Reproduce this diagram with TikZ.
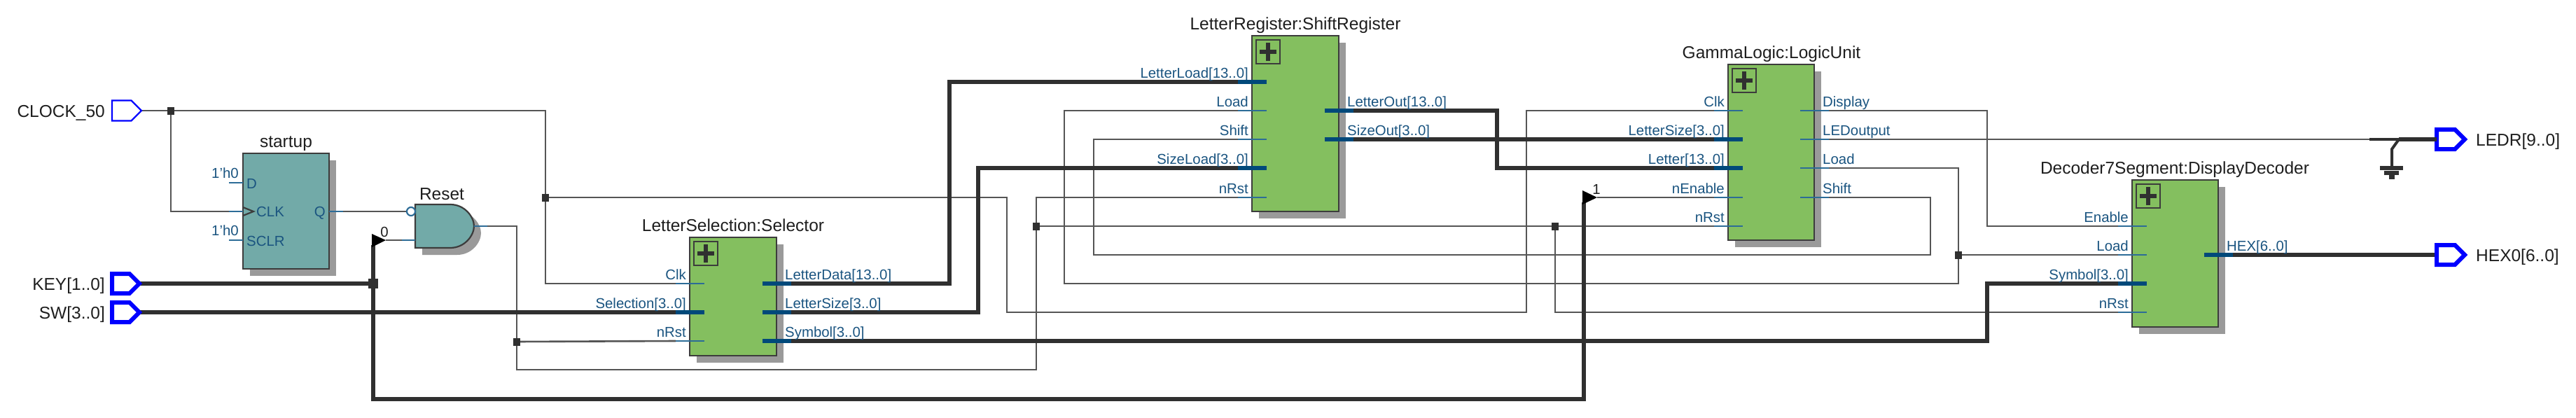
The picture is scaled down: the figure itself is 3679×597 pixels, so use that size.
\documentclass[tikz,border=0pt]{standalone}
\usepackage{fontspec}
\setmainfont{Liberation Sans}
\usetikzlibrary{backgrounds,shadows}
\definecolor{wirecol}{HTML}{555555}
\definecolor{buscol}{HTML}{303030}
\definecolor{stubbus}{HTML}{00497A}
\definecolor{stubsig}{HTML}{2C6C97}
\definecolor{pinblue}{HTML}{1A5480}
\definecolor{blockgreen}{HTML}{84BF5F}
\definecolor{logicteal}{HTML}{72AAA8}
\definecolor{shadowgray}{HTML}{9A9A9A}
\definecolor{edgecol}{HTML}{3C3C3C}
\definecolor{textcol}{HTML}{1E1E1E}
\tikzset{
  sigwire/.style={draw=wirecol,line width=2.6pt},
  buswire/.style={draw=buscol,line width=5.8pt},
  sigstub/.style={draw=stubsig,line width=2.2pt},
  busstub/.style={draw=stubbus,line width=5.8pt},
  pinlbl/.style={text=pinblue,inner sep=0pt,font=\fontsize{20.4}{24}\selectfont},
  titlelbl/.style={text=textcol,inner sep=0pt,anchor=base,font=\fontsize{24.5}{28}\selectfont},
  portlbl/.style={text=textcol,inner sep=0pt,font=\fontsize{24.5}{28}\selectfont},
  constlbl/.style={text=textcol,inner sep=0pt,anchor=base,font=\fontsize{20.4}{24}\selectfont},
  blockbox/.style={draw=edgecol,line width=2.2pt,fill=blockgreen,anchor=north west,inner sep=0pt,outer sep=0pt,
    drop shadow={shadow xshift=10pt,shadow yshift=-10pt,fill=shadowgray,opacity=1}},
  regbox/.style={blockbox,fill=logicteal},
  plusbox/.style={draw=edgecol,line width=2pt,anchor=north west,inner sep=0pt,outer sep=0pt,minimum width=34pt,minimum height=34pt,
    path picture={\draw[draw=buscol,line width=6.5pt]
      ([xshift=-12pt]path picture bounding box.center) -- ([xshift=12pt]path picture bounding box.center)
      ([yshift=-13pt]path picture bounding box.center) -- ([yshift=13pt]path picture bounding box.center);}},
  junc/.style={fill=buscol,inner sep=0pt,minimum width=10pt,minimum height=11pt},
  busjunc/.style={fill=buscol,inner sep=0pt,minimum width=14pt,minimum height=14pt},
  portanchor/.style={inner sep=0pt,outer sep=0pt},
  portthin/.style={draw=blue,line width=2.4pt,line join=miter},
  portthick/.style={draw=blue,line width=6pt,line join=miter},
}
\newcommand\sigport[6]{% style, name, x left, x tip, y centre, half height
  \node[portanchor,minimum width={(#4-#3)*1pt},minimum height={2*#6*1pt}] (#2) at (#3/2+#4/2,#5) {};
  \draw[#1] (#3,#5-#6) -- (#4-#6,#5-#6) -- (#4,#5) -- (#4-#6,#5+#6) -- (#3,#5+#6) -- cycle;}
\newcommand\pinL[5][sigstub]{\coordinate (#2) at (#3-20,#4);
  \node[pinlbl,anchor=base east] (#2lbl) at (#3-5,#4-6) {#5};
  \draw[#1] (#3-20,#4) -- (#3+21,#4);}
\newcommand\pinR[5][sigstub]{\coordinate (#2) at (#3+21,#4);
  \node[pinlbl,anchor=base west] (#2lbl) at (#3+12,#4-6) {#5};
  \draw[#1] (#3-20,#4) -- (#3+21,#4);}
\begin{document}
\begin{tikzpicture}[x=1pt,y=-1pt]
\useasboundingbox (0,0) rectangle (3679,597);
% top-level ports
\sigport{portthin}{clockport}{160}{202}{158}{14.5}
\sigport{portthick}{keyport}{160}{199}{405}{14}
\sigport{portthick}{swport}{160}{199}{446}{14}
\sigport{portthick}{ledrport}{3480}{3520}{199}{14}
\sigport{portthick}{hexport}{3480}{3520}{364}{14}
\node[portlbl,anchor=base east] (clocklbl) at (150,167) {CLOCK\_50};
\node[portlbl,anchor=base east] (keylbl)   at (150,414) {KEY[1..0]};
\node[portlbl,anchor=base east] (swlbl)    at (150,455) {SW[3..0]};
\node[portlbl,anchor=base west] (ledrlbl)  at (3536,208) {LEDR[9..0]};
\node[portlbl,anchor=base west] (hexlbl)   at (3536,373) {HEX0[6..0]};
% startup register
\node[regbox,minimum width=123pt,minimum height=165pt] (startup) at (347,219) {};
\node[titlelbl] (startuptitle) at (408.5,210) {startup};
\draw[sigstub] (327,261) -- (347,261);
\draw[sigstub] (327,302) -- (347,302);
\draw[sigstub] (327,343) -- (347,343);
\draw[sigstub] (470,302) -- (490,302);
\coordinate (stclk) at (327,302);
\coordinate (stq) at (490,302);
\draw[draw=edgecol,line width=2.2pt] (347,296) -- (362,302) -- (347,308);
\node[pinlbl,anchor=base west] (stdlbl) at (352,269) {D};
\node[pinlbl,anchor=base west] (stclklbl) at (366,309) {CLK};
\node[pinlbl,anchor=base west] (stsclrlbl) at (352,351) {SCLR};
\node[pinlbl,anchor=base east] (stqlbl) at (465,309) {Q};
\node[pinlbl,anchor=base east] (stc1) at (341,254) {1'h0};
\node[pinlbl,anchor=base east] (stc2) at (341,336) {1'h0};
% reset gate
\fill[shadowgray] (603,302) -- (653,302) .. controls (674,302) and (687,320) .. (687,333) .. controls (687,346) and (674,364) .. (653,364) -- (603,364) -- cycle;
\filldraw[fill=logicteal,draw=edgecol,line width=2.2pt] (593,292) -- (643,292) .. controls (664,292) and (677,310) .. (677,323) .. controls (677,336) and (664,354) .. (643,354) -- (593,354) -- cycle;
\node[titlelbl] (resettitle) at (631,285) {Reset};
\node[circle,draw=stubsig,line width=2.2pt,fill=white,inner sep=0pt,minimum size=12pt] (bubble) at (587,302) {};
\draw[sigstub] (574,343) -- (593,343);
\draw[sigstub] (677,323) -- (696,323);
\coordinate (gatea) at (bubble.west);
\coordinate (gateb) at (574,343);
\coordinate (gateout) at (696,323);
% constant drivers
\fill[black] (531,334) -- (551,343) -- (531,353) -- cycle;
\coordinate (zerotip) at (551,343);
\coordinate (zerobase) at (533,350);
\node[constlbl] (zerolbl) at (549,338) {0};
\fill[black] (2260,272) -- (2281,282) -- (2260,292) -- cycle;
\coordinate (onetip) at (2281,282);
\coordinate (onebase) at (2262,289);
\node[constlbl] (onelbl) at (2280,277) {1};
% selector
\node[blockbox,minimum width=124pt,minimum height=169pt] (sel) at (985,339) {};
\node[titlelbl] (seltitle) at (1047,330) {LetterSelection:Selector};
\node[plusbox] (selplus) at (991,345) {};
\pinL{selclk}{985}{405}{Clk}
\pinL[busstub]{selsel}{985}{446}{Selection[3..0]}
\pinL{selrst}{985}{487}{nRst}
\pinR[busstub]{seldata}{1109}{405}{LetterData[13..0]}
\pinR[busstub]{selsize}{1109}{446}{LetterSize[3..0]}
\pinR[busstub]{selsym}{1109}{487}{Symbol[3..0]}
% shift register
\node[blockbox,minimum width=124pt,minimum height=251pt] (sr) at (1788,51) {};
\node[titlelbl] (srtitle) at (1850,42) {LetterRegister:ShiftRegister};
\node[plusbox] (srplus) at (1794,57) {};
\pinL[busstub]{srll}{1788}{117}{LetterLoad[13..0]}
\pinL{srload}{1788}{158}{Load}
\pinL{srshift}{1788}{199}{Shift}
\pinL[busstub]{srsl}{1788}{240}{SizeLoad[3..0]}
\pinL{srrst}{1788}{282}{nRst}
\pinR[busstub]{srlo}{1912}{158}{LetterOut[13..0]}
\pinR[busstub]{srso}{1912}{199}{SizeOut[3..0]}
% logic unit
\node[blockbox,minimum width=123pt,minimum height=251pt] (lu) at (2468,92) {};
\node[titlelbl] (lutitle) at (2530,83) {GammaLogic:LogicUnit};
\node[plusbox] (luplus) at (2474,98) {};
\pinL{luclk}{2468}{158}{Clk}
\pinL[busstub]{lusize}{2468}{199}{LetterSize[3..0]}
\pinL[busstub]{luletter}{2468}{240}{Letter[13..0]}
\pinL{luen}{2468}{282}{nEnable}
\pinL{lurst}{2468}{323}{nRst}
\pinR{ludisp}{2591}{158}{Display}
\pinR{luled}{2591}{199}{LEDoutput}
\pinR{luload}{2591}{240}{Load}
\pinR{lushift}{2591}{282}{Shift}
% decoder
\node[blockbox,minimum width=123pt,minimum height=210pt] (dec) at (3045,257) {};
\node[titlelbl] (dectitle) at (3106,248) {Decoder7Segment:DisplayDecoder};
\node[plusbox] (decplus) at (3051,263) {};
\pinL{decen}{3045}{323}{Enable}
\pinL{decload}{3045}{364}{Load}
\pinL[busstub]{decsym}{3045}{405}{Symbol[3..0]}
\pinL{decrst}{3045}{446}{nRst}
\pinR[busstub]{dechex}{3168}{364}{HEX[6..0]}
% junctions
\node[junc] (j1) at (244,158) {};
\node[junc] (j2) at (779,282) {};
\node[junc] (j3) at (738,488) {};
\node[junc] (j4) at (1480,323) {};
\node[junc] (j5) at (2221,323) {};
\node[junc] (j6) at (2797,364) {};
\node[busjunc] (j7) at (533,405) {};
% ground
\coordinate (gndtop) at (3426,199);
\coordinate (gndthin) at (3384,199);
\coordinate (gndbar) at (3416,240);
\draw[buswire,line width=4pt] (gndtop) -- (3416,213) -- (gndbar);
\draw[buscol,line width=5.5pt] (3399,240) -- (3432,240);
\draw[buscol,line width=5.5pt] (3405,247) -- (3426,247);
\draw[buscol,line width=5.5pt] (3412,253) -- (3420,253);
\draw[buswire] (gndtop) -- (ledrport.west);
\draw[buswire,line width=3.5pt] (gndthin) -- (gndtop);
% connectors
\begin{scope}[on background layer]
\draw[sigwire] (clockport.east) -- (779,158) -- (779,405) -- (selclk);
\draw[sigwire] (j1.center) -- (244,302) -- (stclk);
\draw[sigwire] (j2.center) -- (1438,282) -- (1438,446) -- (2180,446) -- (2180,158) -- (luclk);
\draw[sigwire] (stq) -- (gatea);
\draw[sigwire] (zerotip) -- (gateb);
\draw[sigwire] (gateout) -- (738,323) -- (738,528) -- (1480,528) -- (1480,282) -- (srrst);
\draw[sigwire] (j3.center) -- (selrst);
\draw[sigwire] (j4.center) -- (lurst);
\draw[sigwire] (j5.center) -- (2221,446) -- (decrst);
\draw[sigwire] (onetip) -- (luen);
\draw[sigwire] (luload) -- (2797,240) -- (2797,405) -- (1520,405) -- (1520,158) -- (srload);
\draw[sigwire] (j6.center) -- (decload);
\draw[sigwire] (lushift) -- (2757,282) -- (2757,364) -- (1562,364) -- (1562,199) -- (srshift);
\draw[sigwire] (ludisp) -- (2838,158) -- (2838,323) -- (decen);
\draw[sigwire] (luled) -- (gndthin);
\draw[buswire] (keyport.east) -- (j7.center);
\draw[buswire] (zerobase) -- (533,570) -- (2262,570) -- (onebase);
\draw[buswire] (swport.east) -- (selsel);
\draw[buswire] (seldata) -- (1356,405) -- (1356,117) -- (srll);
\draw[buswire] (selsize) -- (1397,446) -- (1397,240) -- (srsl);
\draw[buswire] (selsym) -- (2838,487) -- (2838,405) -- (decsym);
\draw[buswire] (srlo) -- (2138,158) -- (2138,240) -- (luletter);
\draw[buswire] (srso) -- (lusize);
\draw[buswire] (dechex) -- (hexport.west);
\end{scope}
\end{tikzpicture}
\end{document}
